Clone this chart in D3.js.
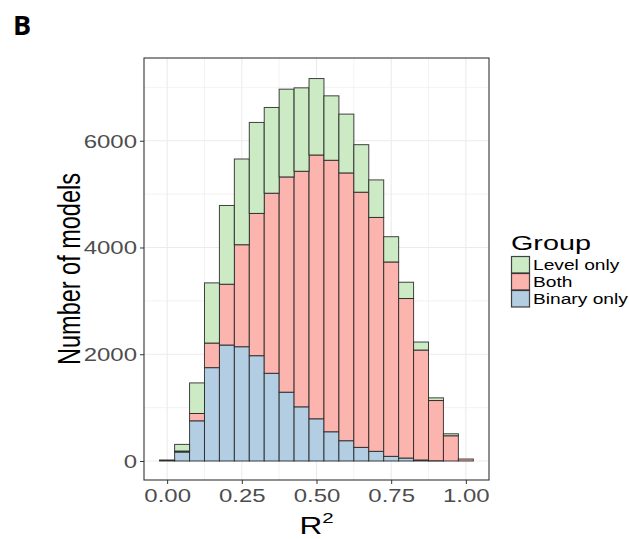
<!DOCTYPE html>
<html>
<head>
<meta charset="utf-8">
<script src="https://cdn.jsdelivr.net/npm/d3@7"></script>
<style>
  body { margin: 0; background: #fff; }
  text { font-family: "Liberation Sans", Arial, sans-serif; }
</style>
</head>
<body>
<svg id="chart" width="629" height="539"></svg>
<script>
// bin centres of the R^2 histogram (binwidth 0.05)
var binCenters = [0.00, 0.05, 0.10, 0.15, 0.20, 0.25, 0.30, 0.35, 0.40, 0.45, 0.50,
                  0.55, 0.60, 0.65, 0.70, 0.75, 0.80, 0.85, 0.90, 0.95, 1.00];
// counts per group
var binaryOnly = [10, 168, 753, 1749, 2173, 2141, 1973, 1643, 1289, 1015, 791,
                  548, 380, 255, 181, 87, 56, 19, 5, 0, 0];
var both       = [3, 19, 137, 461, 1139, 1911, 2665, 3374, 4033, 4413, 4942,
                  5086, 5017, 4781, 4382, 3642, 2988, 2060, 1128, 473, 37];
var levelOnly  = [3, 124, 573, 1127, 1475, 1606, 1705, 1606, 1644, 1563, 1432,
                  1207, 1102, 890, 703, 473, 305, 150, 50, 37, 0];

var groups = ["Level only", "Both", "Binary only"];
var groupColors = ["#CCEBC5", "#FBB4AE", "#B3CDE3"];
var xTicks = [0, 0.25, 0.5, 0.75, 1.0];
var yTicks = [0, 2000, 4000, 6000];

var binWidth = 0.05;
var stretch = 1.37;   // the reference is drawn a bit wider than tall

var svg = d3.select('#chart');

var panel = {left: 144, right: 489, top: 58, bottom: 480};

var x = d3.scaleLinear().domain([-0.0775, 1.0775]).range([panel.left, panel.right]);
var y = d3.scaleLinear().domain([-356, 7550]).range([panel.bottom, panel.top]);

// stacked data: binary at the bottom, then both, then level only
var rows = binCenters.map(function(c, i) {
    return {c: c, "Binary only": binaryOnly[i], "Both": both[i], "Level only": levelOnly[i]};
});
var stack = d3.stack().keys(["Binary only", "Both", "Level only"]);
var layers = stack(rows);

var color = d3.scaleOrdinal().domain(groups).range(groupColors);

// panel background + grid
svg.append('rect')
    .attr('x', panel.left).attr('y', panel.top)
    .attr('width', panel.right - panel.left).attr('height', panel.bottom - panel.top)
    .attr('fill', '#fff');

var grid = svg.append('g');
var xMinor = [-0.125, 0.125, 0.375, 0.625, 0.875];
var yMinor = [1000, 3000, 5000, 7000];

grid.selectAll('.vminor').data(xMinor.filter(function(d) { return x(d) > panel.left; }))
    .enter().append('line')
    .attr('x1', function(d) { return x(d); }).attr('x2', function(d) { return x(d); })
    .attr('y1', panel.top).attr('y2', panel.bottom)
    .attr('stroke', '#ebebeb').attr('stroke-width', 0.6);
grid.selectAll('.hminor').data(yMinor)
    .enter().append('line')
    .attr('x1', panel.left).attr('x2', panel.right)
    .attr('y1', function(d) { return y(d); }).attr('y2', function(d) { return y(d); })
    .attr('stroke', '#ebebeb').attr('stroke-width', 0.6);
grid.selectAll('.vmajor').data(xTicks)
    .enter().append('line')
    .attr('x1', function(d) { return x(d); }).attr('x2', function(d) { return x(d); })
    .attr('y1', panel.top).attr('y2', panel.bottom)
    .attr('stroke', '#ebebeb').attr('stroke-width', 1.1);
grid.selectAll('.hmajor').data(yTicks)
    .enter().append('line')
    .attr('x1', panel.left).attr('x2', panel.right)
    .attr('y1', function(d) { return y(d); }).attr('y2', function(d) { return y(d); })
    .attr('stroke', '#ebebeb').attr('stroke-width', 1.1);

// bars
var bars = svg.append('g');
layers.forEach(function(layer) {
    bars.append('g')
        .selectAll('rect')
        .data(layer)
        .enter().append('rect')
        .attr('x', function(d) { return x(d.data.c - binWidth / 2); })
        .attr('width', function(d) { return x(d.data.c + binWidth / 2) - x(d.data.c - binWidth / 2); })
        .attr('y', function(d) { return y(d[1]); })
        .attr('height', function(d) { return y(d[0]) - y(d[1]); })
        .attr('fill', color(layer.key))
        .attr('stroke', '#222')
        .attr('stroke-opacity', 0.85)
        .attr('stroke-width', 1);
});

// panel border
svg.append('rect')
    .attr('x', panel.left).attr('y', panel.top)
    .attr('width', panel.right - panel.left).attr('height', panel.bottom - panel.top)
    .attr('fill', 'none').attr('stroke', '#333').attr('stroke-width', 1.1);

// axes
var xAxis = d3.axisBottom(x).tickValues(xTicks).tickSize(4).tickFormat(d3.format('.2f'));
var yAxis = d3.axisLeft(y).tickValues(yTicks).tickSize(4).tickFormat(d3.format('d'));

var gx = svg.append('g').attr('transform', 'translate(0,' + panel.bottom + ')').call(xAxis);
var gy = svg.append('g').attr('transform', 'translate(' + panel.left + ',0)').call(yAxis);

[gx, gy].forEach(function(g) {
    g.select('.domain').remove();
    g.selectAll('.tick line').attr('stroke', '#333').attr('stroke-width', 1);
    g.selectAll('.tick text')
        .attr('fill', '#4D4D4D')
        .style('font-size', '17.5px');
});

gx.selectAll('.tick text')
    .attr('y', null).attr('dy', null)
    .attr('transform', 'translate(0,22) scale(' + stretch + ',1)');
gy.selectAll('.tick text')
    .attr('x', null).attr('dy', null)
    .attr('transform', 'translate(-7,6.3) scale(' + stretch + ',1)');

// axis titles
svg.append('text')
    .attr('transform', 'translate(80,' + ((panel.top + panel.bottom) / 2) + ') scale(' + stretch + ',1) rotate(-90)')
    .attr('text-anchor', 'middle')
    .style('font-size', '23.5px')
    .attr('fill', '#000')
    .text('Number of models');

var xt = svg.append('text')
    .attr('transform', 'translate(' + ((panel.left + panel.right) / 2) + ',534) scale(' + stretch + ',1)')
    .attr('text-anchor', 'middle')
    .style('font-size', '23px')
    .attr('fill', '#000');
xt.append('tspan').text('R');
xt.append('tspan').attr('dy', -11).style('font-size', '15px').text('2');

// legend
var legend = svg.append('g');
legend.append('text')
    .attr('transform', 'translate(511,250) scale(' + stretch + ',1)')
    .style('font-size', '21px')
    .attr('fill', '#000')
    .text('Group');

var keyY = [256, 273, 290];
groups.forEach(function(gname, i) {
    legend.append('rect')
        .attr('x', 511.5).attr('y', keyY[i] + 0.5)
        .attr('width', 18).attr('height', 16.5)
        .attr('fill', color(gname))
        .attr('stroke', '#222').attr('stroke-opacity', 0.85).attr('stroke-width', 1.2);
    legend.append('text')
        .attr('transform', 'translate(533,' + (keyY[i] + 14) + ') scale(' + stretch + ',1)')
        .style('font-size', '14px')
        .attr('fill', '#000')
        .text(gname);
});

// panel tag
svg.append('text')
    .attr('x', 13).attr('y', 35)
    .style('font-family', '"Open Sans", "DejaVu Sans", sans-serif')
    .style('font-weight', 'bold')
    .style('font-size', '27px')
    .attr('fill', '#000')
    .text('B');
</script>
</body>
</html>
